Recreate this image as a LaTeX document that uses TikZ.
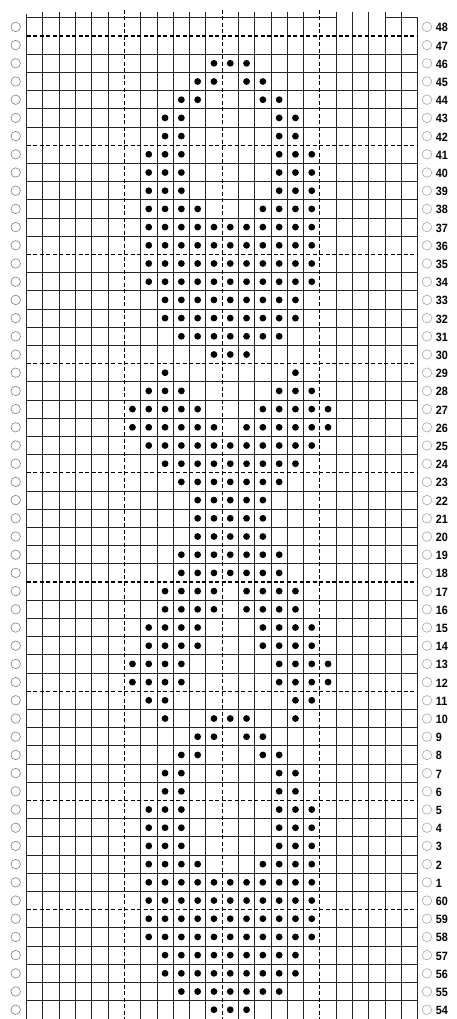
\documentclass[tikz,border=0pt]{standalone}
\usepackage{fontspec}
\newfontfamily\numfont[FakeStretch=0.9]{Liberation Sans}
\begin{document}
\begin{tikzpicture}[x=16.3pt,y=-18.2pt,
  gridline/.style={line width=0.8pt,black!85},
  dashline/.style={line width=1.1pt,black,dash pattern=on 4pt off 2.5pt},
  hole/.style={circle,draw=black!50,line width=0.6pt,minimum size=9.5pt,inner sep=0pt},
  num/.style={anchor=west,inner sep=0pt,font=\numfont\bfseries\fontsize{12}{12}\selectfont}]
\useasboundingbox (-1.626,-0.978) rectangle (26.41,55.01);

\foreach \b in {0,6,12,18}
  \foreach \i in {1,...,5}
    \draw[gridline] (\b+\i,-0.32) -- (\b+\i,55.2);
\draw[gridline] (0,-0.2) -- (0,55.2);
\draw[gridline,line width=1.4pt] (24,0) -- (24,55.2);

\draw[gridline] (0,0) -- (19,0);
\draw[gridline] (22,0) -- (24,0);
\foreach \b in {1,7,...,49}
  \foreach \i in {1,...,5}
    \draw[gridline] (0,\b+\i) -- (24,\b+\i);
\draw[gridline,line width=1.2pt] (0,48) -- (24,48);

\foreach \k in {1,7,...,49}
  \draw[dashline] (0,\k) -- (24,\k);
\foreach \c in {6,12,18}
  \draw[dashline] (\c,-0.45) -- (\c,55.2);

\foreach \k/\cols in {2/{12,13,14}, 3/{11,12,14,15}, 4/{10,11,15,16},
    5/{9,10,16,17}, 6/{9,10,16,17}, 7/{8,9,10,16,17,18}, 8/{8,9,10,16,17,18},
    9/{8,9,10,16,17,18}, 10/{8,9,10,11,15,16,17,18}, 11/{8,...,18},
    12/{8,...,18}, 13/{8,...,18}, 14/{8,...,18}, 15/{9,...,17}, 16/{9,...,17},
    17/{10,...,16}, 18/{12,13,14}, 19/{9,17}, 20/{8,9,10,16,17,18},
    21/{7,8,9,10,11,15,16,17,18,19}, 22/{7,8,9,10,11,12,14,15,16,17,18,19},
    23/{8,...,18}, 24/{9,...,17}, 25/{10,...,16}, 26/{11,...,15},
    27/{11,...,15}, 28/{11,...,15}, 29/{10,...,16}, 30/{10,...,16},
    31/{9,10,11,12,14,15,16,17}, 32/{9,10,11,12,14,15,16,17},
    33/{8,9,10,11,15,16,17,18}, 34/{8,9,10,11,15,16,17,18},
    35/{7,8,9,10,16,17,18,19}, 36/{7,8,9,10,16,17,18,19}, 37/{8,9,17,18},
    38/{9,12,13,14,17}, 39/{11,12,14,15}, 40/{10,11,15,16}, 41/{9,10,16,17},
    42/{9,10,16,17}, 43/{8,9,10,16,17,18}, 44/{8,9,10,16,17,18},
    45/{8,9,10,16,17,18}, 46/{8,9,10,11,15,16,17,18}, 47/{8,...,18},
    48/{8,...,18}, 49/{8,...,18}, 50/{8,...,18}, 51/{9,...,17}, 52/{9,...,17},
    53/{10,...,16}, 54/{12,13,14}}
  \foreach \c in \cols
    \fill (\c-0.5,\k+0.5) circle (3.4pt);

\foreach \k in {0,...,54} {
  \pgfmathtruncatemacro\n{\k<48 ? 48-\k : 108-\k}
  \node[hole] (lh\k) at (-0.663,\k+0.5) {};
  \node[hole,draw=black!35] (rh\k) at (24.57,\k+0.5) {};
  \node[num] (lab\k) at (25.1,\k+0.55) {\n};
}
\end{tikzpicture}
\end{document}
